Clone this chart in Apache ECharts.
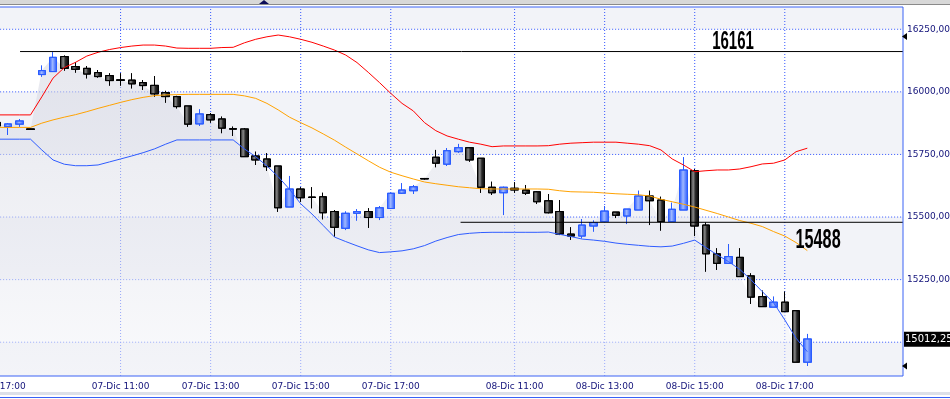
<!DOCTYPE html>
<html><head><meta charset="utf-8">
<script src="https://cdn.jsdelivr.net/npm/echarts@6/dist/echarts.min.js"></script>
<style>html,body{margin:0;padding:0;background:#fff;}#c{width:950px;height:399px;}</style>
</head><body><div id="c"></div>
<script>
// ---- categories (15-minute bars) ----
const dayBars = ['09:00','09:15','09:30','09:45','10:00','10:15','10:30','10:45','11:00','11:15','11:30','11:45','12:00','12:15','12:30','12:45','13:00','13:15','13:30','13:45','14:00','14:15','14:30','14:45','15:00','15:15','15:30','15:45','16:00','16:15','16:30','16:45','17:00','17:15','17:30'];
const prevBars = ['06-Dic 17:00','06-Dic 17:15','06-Dic 17:30'];
const futureBars = ['08-Dic 17:45','08-Dic 18:00','08-Dic 18:15','08-Dic 18:30','08-Dic 18:45','08-Dic 19:00','08-Dic 19:15','08-Dic 19:30'];
const categories = prevBars.concat(dayBars.map(t => '07-Dic ' + t), dayBars.map(t => '08-Dic ' + t), futureBars);
const xTickLabels = ['06-Dic 17:00','07-Dic 11:00','07-Dic 13:00','07-Dic 15:00','07-Dic 17:00','08-Dic 11:00','08-Dic 13:00','08-Dic 15:00','08-Dic 17:00'];
const yTicks = [15000, 15250, 15500, 15750, 16000, 16250];

// ---- OHLC ----
const opens = [15878,15861,15871,15852,16069,16081,16141,16101,16094,16077,16065,16048,16047,16037,16026,15997,15981,15944,15872,15909,15892,15853,15852,15744,15732,15704,15540,15612,15580,15581,15522,15455,15515,15522,15498,15534,15595,15605,15654,15739,15711,15761,15777,15735,15619,15597,15615,15608,15601,15565,15522,15432,15424,15464,15482,15520,15504,15528,15584,15568,15482,15528,15685,15468,15353,15315,15339,15265,15182,15140,15160,15126,14920];
const closes = [15864,15872,15884,15850,16085,16138,16094,16090,16071,16061,16045,16046,16032,16025,15992,15981,15941,15871,15912,15888,15855,15851,15741,15728,15701,15537,15612,15577,15578,15517,15459,15515,15522,15498,15537,15595,15608,15621,15652,15715,15765,15777,15728,15619,15597,15619,15608,15595,15561,15517,15432,15424,15468,15478,15524,15507,15532,15584,15565,15482,15531,15688,15464,15353,15315,15342,15262,15180,15142,15160,15122,14920,15013];
const lows = [15860,15828,15861,15849,16061,16081,16085,16077,16054,16057,16025,16025,16014,16008,15981,15957,15934,15861,15864,15877,15835,15824,15741,15708,15685,15521,15540,15561,15535,15491,15422,15448,15486,15457,15488,15532,15592,15592,15650,15699,15704,15757,15721,15597,15588,15508,15597,15588,15552,15515,15428,15409,15415,15442,15482,15496,15472,15528,15468,15446,15482,15528,15424,15282,15289,15315,15262,15153,15142,15140,15122,14920,14905];
const highs = [15882,15874,15891,15853,16105,16158,16145,16118,16103,16087,16074,16074,16074,16047,16063,16004,15984,15944,15930,15915,15901,15861,15855,15761,15755,15704,15664,15619,15619,15597,15528,15522,15531,15535,15544,15597,15635,15628,15656,15768,15775,15792,15777,15735,15641,15621,15639,15628,15603,15592,15568,15459,15492,15486,15544,15520,15532,15605,15605,15581,15557,15739,15691,15478,15375,15392,15375,15275,15206,15182,15202,15126,15033];

// ---- Bollinger bands ----
const bandUpper = [15908,15908,15908,15908,15980,16055,16097,16118,16143,16158,16169,16177,16183,16187,16187,16183,16175,16174,16174,16174,16177,16178,16196,16210,16220,16227,16220,16210,16198,16183,16167,16147,16117,16078,16037,15994,15954,15924,15877,15845,15824,15811,15799,15791,15781,15784,15784,15784,15784,15785,15791,15795,15797,15799,15799,15799,15795,15791,15785,15768,15732,15708,15681,15685,15688,15688,15692,15701,15712,15715,15728,15761,15775];
const bandMiddle = [15858,15858,15858,15858,15875,15888,15899,15909,15921,15934,15946,15958,15969,15978,15985,15988,15989,15990,15990,15990,15990,15990,15984,15974,15954,15928,15899,15877,15856,15832,15807,15779,15752,15725,15699,15679,15665,15652,15640,15633,15627,15621,15617,15613,15612,15612,15612,15612,15612,15611,15605,15601,15600,15599,15596,15593,15591,15589,15584,15571,15561,15551,15540,15527,15514,15500,15486,15475,15462,15442,15424,15398,15366];
const bandLower = [15811,15811,15811,15811,15768,15728,15711,15705,15705,15708,15720,15732,15744,15757,15772,15791,15808,15808,15808,15808,15808,15808,15772,15741,15704,15661,15611,15553,15512,15466,15420,15402,15385,15369,15358,15361,15365,15373,15386,15404,15418,15430,15435,15438,15439,15439,15439,15439,15439,15440,15431,15422,15412,15408,15403,15396,15391,15387,15383,15381,15384,15395,15408,15378,15349,15322,15291,15249,15202,15158,15089,15016,14962];

// ---- annotations ----
const levelValues = [16161, 15479];
const levelStarts = [2.07, 41.2];
const levelLabels = ['16161', '15488'];
const levelLabelPos = [[65.4, 16197], [72.96, 15408]];
const lastPrice = 15012.259;
const lastPriceLabel = '15012,259';

const yMin = 14865, yMax = 16339;
const xMin = -0.5, xMax = categories.length - 0.5;
const gridBlue = '#3355ff';
const navy = '#12127a';

const candleData = opens.map((o, i) => [o, closes[i], lows[i], highs[i]]);

const series = [];
yTicks.forEach((v, i) => {
  const s = {
    type: 'line', xAxisIndex: 1, yAxisIndex: 0, data: [[xMin, v], [xMax, v]],
    symbol: 'none', silent: true, z: 2, animation: false,
    lineStyle: { color: gridBlue, width: 1, type: [1, 2] }
  };
  if (i === 0) {
    s.markArea = {
      silent: true, z: 1,
      itemStyle: { color: '#f2f3f8' },
      data: [[{ yAxis: 16250 }, { yAxis: yMax }], [{ yAxis: 15750 }, { yAxis: 16000 }], [{ yAxis: 15250 }, { yAxis: 15500 }], [{ yAxis: yMin }, { yAxis: 15000 }]]
    };
  }
  series.push(s);
});
xTickLabels.forEach(lbl => {
  const k = categories.indexOf(lbl);
  series.push({
    type: 'line', xAxisIndex: 1, yAxisIndex: 0, data: [[k, yMin], [k, yMax]],
    symbol: 'none', silent: true, z: 2, animation: false,
    lineStyle: { color: gridBlue, width: 1, type: [1, 2] }
  });
});
// area under price
series.push({
  type: 'line', xAxisIndex: 0, yAxisIndex: 0, data: closes, symbol: 'none', silent: true, z: 3,
  lineStyle: { width: 0, color: 'rgba(0,0,0,0)' },
  areaStyle: {
    origin: 'start',
    color: { type: 'linear', x: 0, y: 0, x2: 0, y2: 1, colorStops: [
      { offset: 0, color: 'rgba(210,212,224,0.78)' }, { offset: 1, color: 'rgba(244,245,249,0.78)' }] }
  },
  markLine: {
    silent: true, symbol: 'none', animation: false,
    lineStyle: { color: 'rgba(0,0,0,0)', width: 0 },
    label: { show: true, position: 'end', distance: 1, formatter: lastPriceLabel, color: '#fff', backgroundColor: '#000',
      fontSize: 10, fontFamily: 'DejaVu Sans', padding: [3, 3, 2, 1] },
    data: [{ yAxis: lastPrice }]
  }
});
// candles
series.push({
  type: 'candlestick', xAxisIndex: 0, yAxisIndex: 0, data: candleData, barWidth: 8, z: 4, silent: true,
  itemStyle: {
    color: { type: 'linear', x: 0, y: 0, x2: 1, y2: 0, colorStops: [
      { offset: 0, color: '#1f52ff' }, { offset: 0.45, color: '#9fb8ff' }, { offset: 1, color: '#1f52ff' }] },
    color0: { type: 'linear', x: 0, y: 0, x2: 1, y2: 0, colorStops: [
      { offset: 0, color: '#000000' }, { offset: 0.35, color: '#8a8a8a' }, { offset: 0.6, color: '#2a2a2a' }, { offset: 1, color: '#000000' }] },
    borderColor: '#2a5cff', borderColor0: '#000000', borderWidth: 1
  }
});
// bollinger
[[bandUpper, '#ff0000'], [bandMiddle, '#ffa200'], [bandLower, '#2f5cff']].forEach(([d, c]) => {
  series.push({ type: 'line', xAxisIndex: 0, yAxisIndex: 0, data: d, symbol: 'none', silent: true, z: 5,
    lineStyle: { color: c, width: 1 } });
});
// horizontal levels
levelValues.forEach((v, i) => {
  series.push({ type: 'line', xAxisIndex: 1, yAxisIndex: 0, data: [[levelStarts[i], v], [xMax, v]],
    symbol: 'none', silent: true, z: 6, lineStyle: { color: '#000', width: 1 } });
});

const chart = echarts.init(document.getElementById('c'));
chart.setOption({
  animation: false,
  grid: { left: -8.875, right: 47, top: 7, bottom: 23, show: true, borderColor: '#3a62f5', borderWidth: 1,
    backgroundColor: 'transparent', z: 10, containLabel: false, outerBoundsMode: 'none' },
  xAxis: [
    { type: 'category', data: categories, boundaryGap: true,
      axisLine: { show: false }, axisTick: { show: false }, splitLine: { show: false },
      axisLabel: { interval: (idx, val) => xTickLabels.indexOf(val) >= 0, color: navy, fontSize: 9, fontFamily: 'DejaVu Sans', margin: 6, hideOverlap: false } },
    { type: 'value', min: xMin, max: xMax, show: false }
  ],
  yAxis: [{
    type: 'value', position: 'right', min: yMin, max: yMax, scale: true,
    axisLine: { show: false }, axisTick: { show: false }, splitLine: { show: false },
    axisLabel: { customValues: yTicks, formatter: v => v.toFixed(2).replace('.', ','), color: navy, fontSize: 9, fontFamily: 'DejaVu Sans', margin: 4 }
  }],
  series: series
});

const g = [
  { type: 'rect', shape: { x: 0, y: 0, width: 950, height: 4 }, style: { fill: '#d8d8d8' }, z: 20 },
  { type: 'line', shape: { x1: 0, y1: 4.5, x2: 950, y2: 4.5 }, style: { stroke: '#8a8a8a', lineWidth: 1 }, z: 20 },
  { type: 'polygon', shape: { points: [[259, 4], [264, 0], [269, 4]] }, style: { fill: '#0c0c5a' }, z: 21 },
  { type: 'polygon', shape: { points: [[902, 36.5], [907, 33], [907, 40]] }, style: { fill: '#000' }, z: 21 },
  { type: 'polygon', shape: { points: [[902, 366], [907, 362.5], [907, 369.5]] }, style: { fill: '#000' }, z: 21 },
  { type: 'rect', shape: { x: 0, y: 392, width: 950, height: 3 }, style: { fill: '#dde0e8' }, z: 20 },
  { type: 'line', shape: { x1: 0, y1: 397.5, x2: 950, y2: 397.5 }, style: { stroke: '#3a62f5', lineWidth: 1 }, z: 20 }
];
levelLabels.forEach((t, i) => {
  const p = chart.convertToPixel({ xAxisIndex: 1, yAxisIndex: 0 }, levelLabelPos[i]);
  g.push({ type: 'text', x: p[0], y: p[1], scaleX: 0.6, z: 22,
    style: { text: t, x: 0, y: 0, align: 'center', verticalAlign: 'middle', fill: '#000',
      font: 'bold ' + (i === 0 ? 25 : 27) + 'px "Liberation Sans", Arial, sans-serif' } });
});
chart.setOption({ graphic: g });
</script>
</body></html>
